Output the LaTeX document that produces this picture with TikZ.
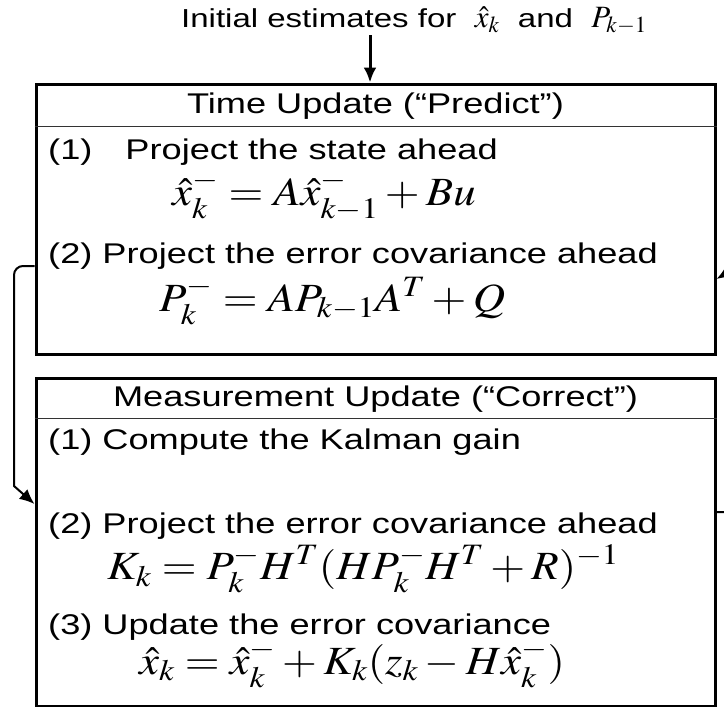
\documentclass[tikz,border=0pt]{standalone}
\usepackage{mathptmx}
\usepackage{graphicx}
\usepackage[no-math]{fontspec}
\setmainfont{Liberation Sans}[FakeStretch=1.27]
\usetikzlibrary{arrows.meta}

\newcommand{\widemath}[1]{\scalebox{1.12}[1]{$#1$}}

\begin{document}
\begin{tikzpicture}[
  x=1pt, y=-1pt,
  panel/.style={draw=black, line width=3pt, minimum width=679pt, inner sep=0pt},
  head/.style={inner sep=0pt, font=\fontsize{28.5}{32}\selectfont},
  line/.style={anchor=west, inner sep=0pt, font=\fontsize{28.5}{32}\selectfont},
  formula/.style={anchor=west, inner sep=0pt, font=\fontsize{40}{44}\selectfont},
  sep/.style={draw=black!80, line width=1.3pt},
  link/.style={draw=black, line width=2pt, -{Latex[length=15pt,width=13pt]}}
]
\useasboundingbox (0,0) rectangle (724,707);
\clip (0,0) rectangle (724,707);

% initial values
\node[inner sep=0pt, font=\fontsize{26}{30}\selectfont] (init) at (414,21)
  {Initial estimates for \ {\fontsize{31}{34}\selectfont$\hat{x}_k$} \ and \ {\fontsize{31}{34}\selectfont$P_{k-1}$}};

% time update
\node[panel, minimum height=270pt] (tu) at (375.5,219) {};
\node[head] (tuhead) at (375.5,106) {Time Update (“Predict”)};
\draw[sep] ([yshift=-44pt]tu.north west) -- ([yshift=-44pt]tu.north east);
\node[line] (tu1) at (48,152) {(1)\hspace{23pt} Project the state ahead};
\node[formula] (tueq1) at (172,196) {\widemath{\hat{x}_k^- = A\hat{x}_{k-1}^- + Bu}};
\node[line] (tu2) at (48,256) {(2) Project the error covariance ahead};
\node[formula] (tueq2) at (159,301) {\widemath{P_k^- = AP_{k-1}A^T + Q}};

% measurement update
\node[panel, minimum height=328pt] (mu) at (375.5,542) {};
\node[head] (muhead) at (375.5,399) {Measurement Update (“Correct”)};
\draw[sep] ([yshift=-42pt]mu.north west) -- ([yshift=-42pt]mu.north east);
\node[line] (mu1) at (48,442) {(1) Compute the Kalman gain};
\node[line] (mu2) at (48,526) {(2) Project the error covariance ahead};
\node[formula] (mueq1) at (107,569) {\widemath{K_k = P_k^- H^T (HP_k^- H^T + R)^{-1}}};
\node[line] (mu3) at (48,627) {(3) Update the error covariance};
\node[formula] (mueq2) at (139,664) {\widemath{\hat{x}_k = \hat{x}_k^- + K_k(z_k - H\hat{x}_k^-)}};

% connectors
\coordinate (lbend) at (14,266);
\coordinate (lfoot) at (14,486);
\coordinate (lin) at (0,504);
\coordinate (rout) at (745,512);
\coordinate (rtop) at (745,262);
\coordinate (rin) at (0,279);
\draw[link, line width=3pt] ([xshift=-44pt]init.south) -- ([xshift=-44pt]init.south |- tu.north);
\draw[link] (tu.west |- lbend) [rounded corners=9pt] -- (lbend) [sharp corners] -- (lfoot) -- (mu.west |- lin);
\draw[link] (mu.east |- rout) -- (rout) -- (rtop) -- (tu.east |- rin);
\end{tikzpicture}
\end{document}
